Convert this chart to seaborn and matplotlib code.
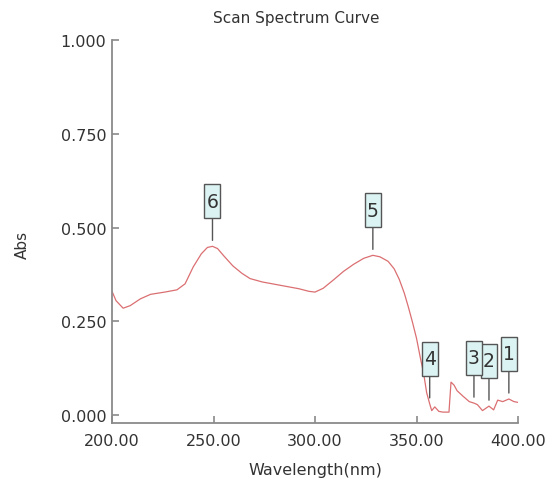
import matplotlib
matplotlib.use("Agg")
import matplotlib.pyplot as plt
from matplotlib.path import Path
from matplotlib.ticker import FormatStrFormatter
import numpy as np
import pandas as pd
import seaborn as sns

# Absorbance scan, 200-400 nm
wavelength = [200, 202, 205.5, 209, 214, 219, 226, 232, 236, 240, 244, 247,
              249.5, 252, 255, 259.5, 264, 268, 274, 279, 286, 292, 297, 300,
              304, 309, 314, 319, 324, 328.5, 332, 336, 339, 341.5, 344, 346,
              348, 350, 352, 353.5, 355, 356.5, 357.5, 359, 361, 363, 366,
              367, 368.5, 370, 373, 376, 378.3, 380, 382.5, 385.7, 388, 390,
              392.5, 395.5, 398, 400]
absorbance = [0.330, 0.305, 0.285, 0.292, 0.310, 0.322, 0.328, 0.334, 0.350,
              0.395, 0.430, 0.447, 0.450, 0.444, 0.425, 0.398, 0.378, 0.364,
              0.355, 0.350, 0.343, 0.337, 0.330, 0.328, 0.338, 0.360, 0.383,
              0.402, 0.418, 0.426, 0.422, 0.410, 0.390, 0.362, 0.325, 0.288,
              0.248, 0.205, 0.150, 0.112, 0.060, 0.030, 0.012, 0.022, 0.010,
              0.008, 0.008, 0.088, 0.080, 0.065, 0.050, 0.036, 0.032, 0.028,
              0.012, 0.024, 0.014, 0.040, 0.036, 0.043, 0.036, 0.034]

# Picked peaks
peak_labels = ["1", "2", "3", "4", "5", "6"]
peak_wl = [395.5, 385.7, 378.3, 356.5, 328.5, 249.5]
peak_abs = [0.043, 0.024, 0.032, 0.030, 0.426, 0.450]

x_ticks = [200, 250, 300, 350, 400]
y_ticks = [0.0, 0.25, 0.5, 0.75, 1.0]

sns.set_theme(style="ticks")
plt.rcParams["font.family"] = ["DejaVu Sans"]

AXIS_GREY = "#8a8a8a"
TEXT_DARK = "#333333"

fig = plt.figure(figsize=(5.56, 4.85), dpi=100)
ax = fig.add_axes([112 / 556, 61 / 485, 406 / 556, 383 / 485])

df = pd.DataFrame({"Wavelength": wavelength, "Abs": absorbance})
sns.lineplot(data=df, x="Wavelength", y="Abs", ax=ax, color="#db6f72",
             linewidth=0.9, sort=False)


def tall_box(x0, y0, width, height, mutation_size):
    """Rectangle with narrow side padding and taller vertical padding."""
    px = 0.11 * mutation_size
    py = 0.40 * mutation_size
    xa, xb = x0 - px, x0 + width + px
    ya, yb = y0 - py, y0 + height + py
    return Path([(xa, ya), (xb, ya), (xb, yb), (xa, yb), (xa, ya)],
                closed=True)


for lab, wx, wy in zip(peak_labels, peak_wl, peak_abs):
    ax.annotate(lab, xy=(wx, wy), xytext=(0, 32.5), textcoords="offset points",
                ha="center", va="center", fontsize=13.5, color=TEXT_DARK,
                bbox=dict(boxstyle=tall_box, facecolor="#dcf3f3",
                          edgecolor="#555555", linewidth=1.0),
                arrowprops=dict(arrowstyle="-", color="#555555", lw=1.0,
                                shrinkA=0, shrinkB=4.3))

ax.set_xlim(200, 400)
ax.set_ylim(-0.021, 1.0)
ax.set_xticks(x_ticks)
ax.set_yticks(y_ticks)
ax.xaxis.set_major_formatter(FormatStrFormatter("%.2f"))
ax.yaxis.set_major_formatter(FormatStrFormatter("%.3f"))

for side in ["top", "right"]:
    ax.spines[side].set_visible(False)
for side in ["left", "bottom"]:
    ax.spines[side].set_color(AXIS_GREY)
    ax.spines[side].set_linewidth(1.3)

ax.tick_params(axis="both", direction="in", length=5, width=1.2,
               color=AXIS_GREY, labelsize=11.5, labelcolor=TEXT_DARK)
ax.tick_params(axis="x", pad=7.5)
ax.tick_params(axis="y", pad=4)

ax.set_xlabel("Wavelength(nm)", fontsize=11.5, color=TEXT_DARK)
ax.xaxis.set_label_coords(0.5, -0.102)
ax.set_ylabel("Abs", fontsize=11, color=TEXT_DARK)
ax.yaxis.set_label_coords(-0.202, 0.467)

fig.text(296 / 556, 1 - 19 / 485, "Scan Spectrum Curve", ha="center",
         va="center", fontsize=11, color=TEXT_DARK)

fig.savefig("out.png", dpi=100, facecolor="white")
